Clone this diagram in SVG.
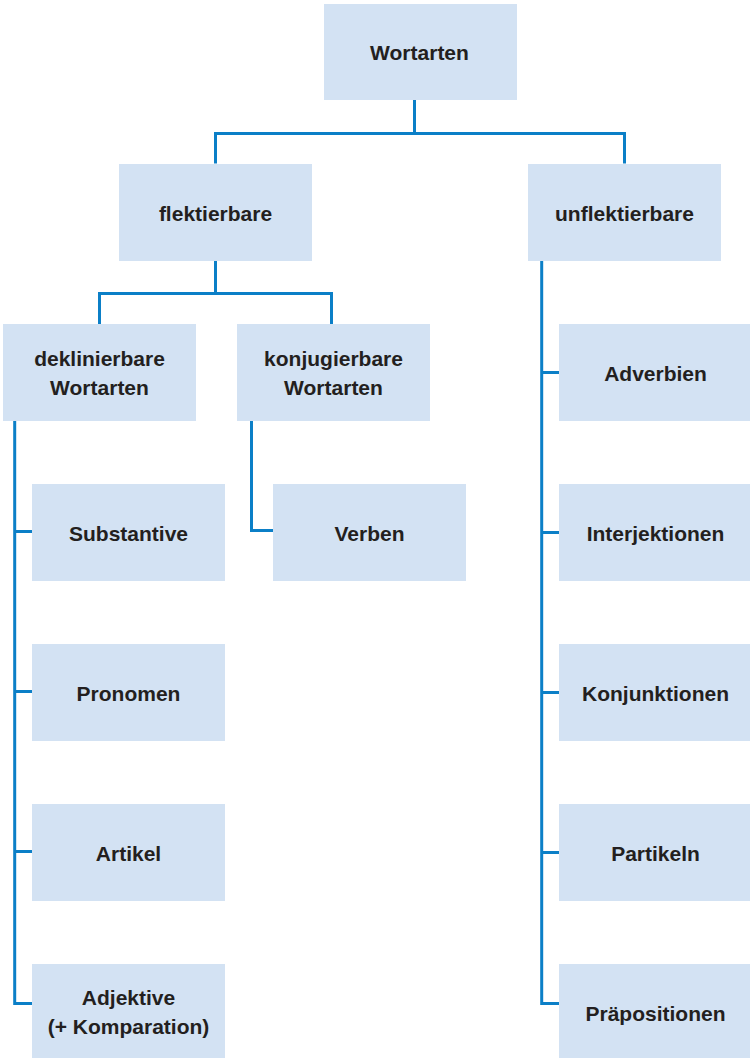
<svg xmlns="http://www.w3.org/2000/svg" width="750" height="1058" viewBox="0 0 750 1058">
<style>
.box{fill:#d3e2f3}
.t{font-family:"Liberation Sans",Arial,sans-serif;font-weight:bold;font-size:21px;fill:#231f20;text-anchor:middle}
.c{fill:none;stroke:#0b7fc7;stroke-width:3;stroke-linecap:butt;stroke-linejoin:miter}
</style>
<rect width="750" height="1058" fill="#ffffff"/>
<g id="connectors">
<path class="c" d="M414.5 100 V133.5 M215.5 163.5 V133.5 H624.5 V163.5"/>
<path class="c" d="M215.5 261 V293.5 M99.5 324 V293.5 H331.5 V324"/>
<path class="c" d="M14.7 421 V1003.5 H32 M14.7 531.5 H32 M14.7 691.5 H32 M14.7 851.5 H32"/>
<path class="c" d="M251.5 421 V530.5 H273"/>
<path class="c" d="M541.7 261 V1003.5 H559 M541.7 372.5 H559 M541.7 532.5 H559 M541.7 692.5 H559 M541.7 852.5 H559"/>
</g>
<g id="wortarten"><rect class="box" x="324" y="4" width="193" height="96"/><text class="t" x="419.5" y="60">Wortarten</text></g>
<g id="flektierbare"><rect class="box" x="119" y="164" width="193" height="97"/><text class="t" x="215.5" y="220.5">flektierbare</text></g>
<g id="unflektierbare"><rect class="box" x="528" y="164" width="193" height="97"/><text class="t" x="624.5" y="220.5">unflektierbare</text></g>
<g id="deklinierbare"><rect class="box" x="3" y="324" width="193" height="97"/><text class="t" x="99.5" y="366">deklinierbare</text><text class="t" x="99.5" y="395">Wortarten</text></g>
<g id="konjugierbare"><rect class="box" x="237" y="324" width="193" height="97"/><text class="t" x="333.5" y="366">konjugierbare</text><text class="t" x="333.5" y="395">Wortarten</text></g>
<g id="verben"><rect class="box" x="273" y="484" width="193" height="97"/><text class="t" x="369.5" y="540.5">Verben</text></g>
<g id="substantive"><rect class="box" x="32" y="484" width="193" height="97"/><text class="t" x="128.5" y="540.5">Substantive</text></g>
<g id="pronomen"><rect class="box" x="32" y="644" width="193" height="97"/><text class="t" x="128.5" y="700.5">Pronomen</text></g>
<g id="artikel"><rect class="box" x="32" y="804" width="193" height="97"/><text class="t" x="128.5" y="860.5">Artikel</text></g>
<g id="adjektive"><rect class="box" x="32" y="964" width="193" height="97"/><text class="t" x="128.5" y="1005">Adjektive</text><text class="t" x="128.5" y="1034">(+ Komparation)</text></g>
<g id="adverbien"><rect class="box" x="559" y="324" width="191" height="97"/><text class="t" x="655.5" y="380.5">Adverbien</text></g>
<g id="interjektionen"><rect class="box" x="559" y="484" width="191" height="97"/><text class="t" x="655.5" y="540.5">Interjektionen</text></g>
<g id="konjunktionen"><rect class="box" x="559" y="644" width="191" height="97"/><text class="t" x="655.5" y="700.5">Konjunktionen</text></g>
<g id="partikeln"><rect class="box" x="559" y="804" width="191" height="97"/><text class="t" x="655.5" y="860.5">Partikeln</text></g>
<g id="praepositionen"><rect class="box" x="559" y="964" width="191" height="97"/><text class="t" x="655.5" y="1020.5">Präpositionen</text></g>
</svg>
